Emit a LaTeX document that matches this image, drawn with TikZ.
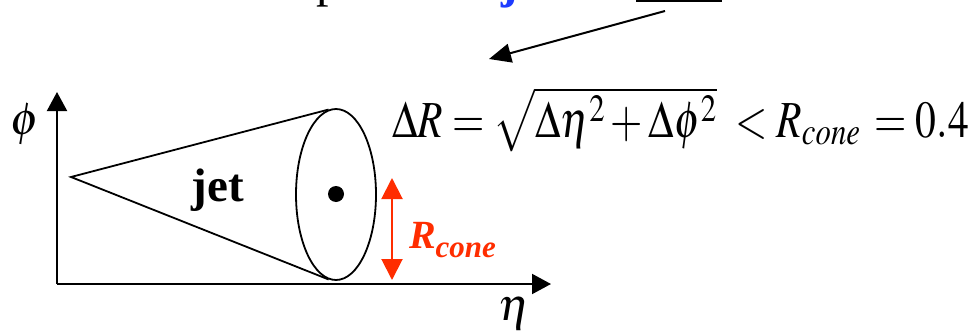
\documentclass[tikz,border=0pt]{standalone}
\usepackage{mathptmx}
\usepackage{graphicx}
\usepackage{fontspec}
\setmainfont{Liberation Serif}
\usetikzlibrary{arrows.meta,shapes.geometric,calc}
\definecolor{rcol}{RGB}{255,45,0}
\definecolor{jblue}{RGB}{30,60,255}
\tikzset{
  axis/.style={line width=2pt,-{Triangle[length=19pt,width=20pt]}},
  conel/.style={line width=1.8pt},
  redarr/.style={rcol,line width=2pt,{Triangle[length=21pt,width=21pt]}-{Triangle[length=21pt,width=21pt]}},
  ptr/.style={line width=2pt,-{Triangle[length=22pt,width=19pt]}},
  lbl/.style={inner sep=0pt,outer sep=0pt},
}
\begin{document}
\begin{tikzpicture}[x=1pt,y=-1pt]
\useasboundingbox (0,0) rectangle (980,332);
\clip (0,0) rectangle (980,332);
% cut-off fragments at the top
\node[lbl,anchor=base west] (ptop) at (316,-3) {\fontsize{50}{50}\selectfont p};
\node[lbl,anchor=base west,text=jblue] (jtop) at (501,-2) {\fontsize{50}{50}\selectfont\bfseries j};
\coordinate (barL) at (636,0.8);
\coordinate (barR) at (722,0.8);
\draw[line width=2.6pt] (barL) -- (barR);
% pointer arrow
\coordinate (ps) at (665,11);
\coordinate (pe) at (489,59);
\draw[ptr] (ps) -- (pe);
% axes
\coordinate (O) at (57,284);
\coordinate (ytip) at (57,92);
\coordinate (xtip) at (551,284);
\draw[axis] (O) -- (ytip);
\draw[axis] (O) -- (xtip);
\node[lbl] (phil) at (25,124) {\fontsize{46}{46}\selectfont$\phi$};
\node[lbl] (etal) at (514,314) {\fontsize{46}{46}\selectfont$\eta$};
% cone
\coordinate (apex) at (71,177);
\node[ellipse,draw,line width=1.8pt,minimum width=80pt,minimum height=171pt,inner sep=0pt] (ell) at (336,194.5) {};
\draw[conel] (ell.95) -- (apex) -- (ell.265);
\node[circle,fill,minimum size=16pt,inner sep=0pt] (dot) at (336,194) {};
\node[lbl] (jet) at (218,190) {\fontsize{47}{47}\selectfont\bfseries jet};
% red arrow
\coordinate (rt) at (392,178);
\coordinate (rb) at (392,280);
\draw[redarr] (rt) -- (rb);
\node[lbl,anchor=base west,text=rcol] (rcone) at (409,248) {\fontsize{40}{40}\selectfont\bfseries\itshape R\raisebox{-9pt}{\fontsize{31}{31}\selectfont cone}};
% formula
\node[lbl,anchor=base west] (form) at (392,137) {\resizebox{577pt}{\height}{\fontsize{52}{52}\selectfont$\Delta R = \sqrt{\Delta\eta^{2} + \Delta\phi^{2}}\; < R_{cone} \,= 0.4$}};
\end{tikzpicture}
\end{document}
